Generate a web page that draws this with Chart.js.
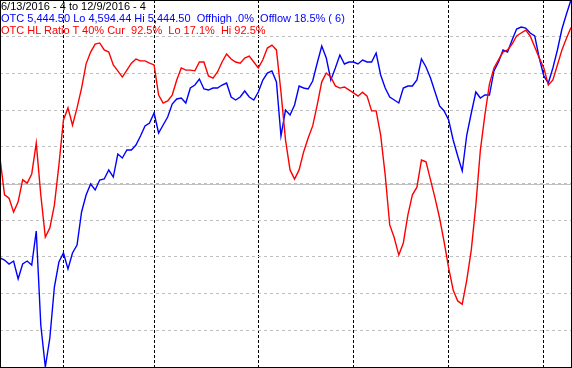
<!DOCTYPE html>
<html><head><meta charset="utf-8">
<script src="https://cdn.jsdelivr.net/npm/chart.js@4"></script>
<style>
html,body{margin:0;padding:0;background:#fff;}
#wrap{position:relative;width:572px;height:368px;overflow:hidden;}
canvas{position:absolute;left:0;top:0;}
.t{position:absolute;left:1px;font-family:"Liberation Sans",Arial,sans-serif;font-size:11px;line-height:11px;white-space:pre;}
</style></head><body>
<div id="wrap">
<canvas id="c" width="572" height="368"></canvas>
<div class="t" style="top:1px;color:#000">6/13/2016 - 4 to 12/9/2016 - 4</div>
<div class="t" style="top:13px;color:#0000ff">OTC 5,444.50 Lo 4,594.44 Hi 5,444.50  Offhigh .0%  Offlow 18.5% ( 6)</div>
<div class="t" style="top:25px;color:#ff0000">OTC HL Ratio T 40% Cur  92.5%  Lo 17.1%  Hi 92.5%</div>
</div>
<script>
// trading days 6/13/2016 .. 12/9/2016
const startDate = '2016-06-13';
const endDate = '2016-12-09';
const holidays = ['2016-07-04', '2016-09-05', '2016-11-24'];

// OTC close
const otcValues = [
4846.9,4842.3,4833.0,4839.9,4798.3,4833.0,4839.9,4830.7,4909.4,4691.7,
4594.44,4661.6,4779.7,4837.6,4858.5,4821.4,4858.5,4877.0,4953.5,4992.8,
5018.3,5004.4,5027.6,5029.9,5050.7,5034.5,5087.8,5078.5,5097.1,5097.1,
5108.6,5129.5,5152.6,5159.6,5182.8,5136.4,5155.0,5173.5,5203.6,5215.2,
5217.5,5205.9,5240.7,5247.6,5261.5,5238.4,5236.0,5240.7,5240.7,5247.6,
5252.2,5219.8,5212.9,5219.8,5233.7,5219.8,5212.9,5231.4,5259.2,5275.4,
5280.1,5254.6,5129.5,5189.7,5178.1,5201.3,5245.3,5240.7,5238.4,5256.9,
5298.6,5337.9,5310.1,5259.2,5287.0,5317.1,5296.3,5300.9,5300.9,5296.3,
5305.5,5300.9,5300.9,5321.7,5270.8,5240.7,5219.8,5212.9,5205.9,5240.7,
5245.3,5245.3,5259.2,5307.8,5289.3,5263.8,5231.4,5199.0,5187.4,5166.5,
5120.2,5083.1,5048.4,5131.8,5182.8,5231.4,5217.5,5224.4,5224.4,5280.1,
5300.9,5328.7,5324.0,5351.8,5377.3,5381.9,5379.6,5368.0,5361.1,5310.1,
5268.5,5252.2,5287.0,5328.7,5377.3,5412.1,5444.50];

// OTC High/Low ratio (%)
const hlRatio = [
56.9,46.9,46.0,42.2,45.0,51.0,50.1,52.6,61.0,46.9,
35.4,37.9,44.1,55.0,67.3,70.6,65.9,70.6,76.0,82.6,
85.8,88.0,88.3,86.4,85.8,82.3,80.7,79.0,80.9,82.8,
83.9,83.4,83.4,82.8,82.3,74.1,71.9,72.5,74.1,78.2,
81.5,80.9,80.9,80.7,83.1,83.1,79.3,78.7,80.4,83.1,
85.3,83.9,83.1,82.8,84.2,84.7,83.1,81.5,83.7,86.9,
87.7,86.4,74.9,61.9,53.7,51.2,53.7,58.6,62.4,65.7,
71.4,77.7,80.1,79.0,76.6,76.0,76.3,75.5,74.7,73.8,
74.9,73.8,69.8,69.8,63.2,52.3,38.7,35.2,30.5,33.8,
41.4,46.9,49.0,56.4,55.9,51.0,46.0,40.6,34.1,27.0,
21.0,18.0,17.1,23.7,31.9,44.1,59.1,68.7,77.1,81.5,
83.7,85.8,86.4,88.0,90.2,91.0,91.8,90.2,87.2,84.2,
81.5,76.8,78.2,82.3,86.4,89.6,92.5];

const otcLo = 4594.44, otcHi = 5444.50;
const ratioMin = 0, ratioMax = 100, ratioStep = 10, ratioMid = 50;

// build category labels (trading days)
const labels = [];
(function(){
  const d = new Date(startDate + 'T12:00:00Z');
  const e = new Date(endDate + 'T12:00:00Z');
  while (d <= e) {
    const wd = d.getUTCDay();
    const iso = d.toISOString().slice(0,10);
    if (wd !== 0 && wd !== 6 && holidays.indexOf(iso) < 0) {
      labels.push((d.getUTCMonth()+1) + '/' + d.getUTCDate() + '/' + d.getUTCFullYear());
    }
    d.setUTCDate(d.getUTCDate() + 1);
  }
})();
const monthStarts = [];
for (let i = 1; i < labels.length; i++) {
  if (labels[i].split('/')[0] !== labels[i-1].split('/')[0]) monthStarts.push(i);
}

const framePlugin = {
  id: 'frame',
  beforeDatasetsDraw(chart) {
    const ctx = chart.ctx, y = chart.scales.y, a = chart.chartArea;
    const py = Math.round(y.getPixelForValue(ratioMid)) + 0.5;
    ctx.save();
    ctx.strokeStyle = '#c0c0c0';
    ctx.lineWidth = 1;
    ctx.beginPath(); ctx.moveTo(a.left, py); ctx.lineTo(a.right, py); ctx.stroke();
    ctx.restore();
  },
  afterDraw(chart) {
    const ctx = chart.ctx;
    ctx.save();
    ctx.strokeStyle = '#000';
    ctx.lineWidth = 1;
    ctx.strokeRect(0.5, 0.5, 571, 367);
    ctx.restore();
  }
};

new Chart(document.getElementById('c'), {
  type: 'line',
  data: {
    labels: labels,
    datasets: [
      { label: 'OTC HL Ratio', data: hlRatio, yAxisID: 'y', borderColor: '#ff0000', borderWidth: 1.4, pointRadius: 0, tension: 0, fill: false, order: 0 },
      { label: 'OTC', data: otcValues, yAxisID: 'y2', borderColor: '#0000ff', borderWidth: 1.4, pointRadius: 0, tension: 0, fill: false, order: 1 }
    ]
  },
  options: {
    responsive: false,
    devicePixelRatio: 1,
    animation: false,
    layout: { padding: { left: 0, top: 0, right: 1, bottom: 1 } },
    plugins: { legend: { display: false }, tooltip: { enabled: false } },
    scales: {
      x: {
        type: 'category',
        offset: false,
        ticks: { display: false, autoSkip: false },
        grid: {
          drawTicks: false,
          lineWidth: 1,
          color: (c) => monthStarts.indexOf(c.index) >= 0 ? '#000000' : 'rgba(0,0,0,0)'
        },
        border: { display: false, dash: [3, 2] }
      },
      y: {
        min: ratioMin, max: ratioMax,
        ticks: { display: false, stepSize: ratioStep },
        grid: {
          drawTicks: false,
          lineWidth: 1,
          color: (c) => (c.tick && (c.tick.value === ratioMin || c.tick.value === ratioMax)) ? 'rgba(0,0,0,0)' : '#c0c0c0'
        },
        border: { display: false, dash: [3, 3] }
      },
      y2: {
        display: false,
        min: otcLo, max: otcHi
      }
    }
  },
  plugins: [framePlugin]
});
</script>
</body></html>
